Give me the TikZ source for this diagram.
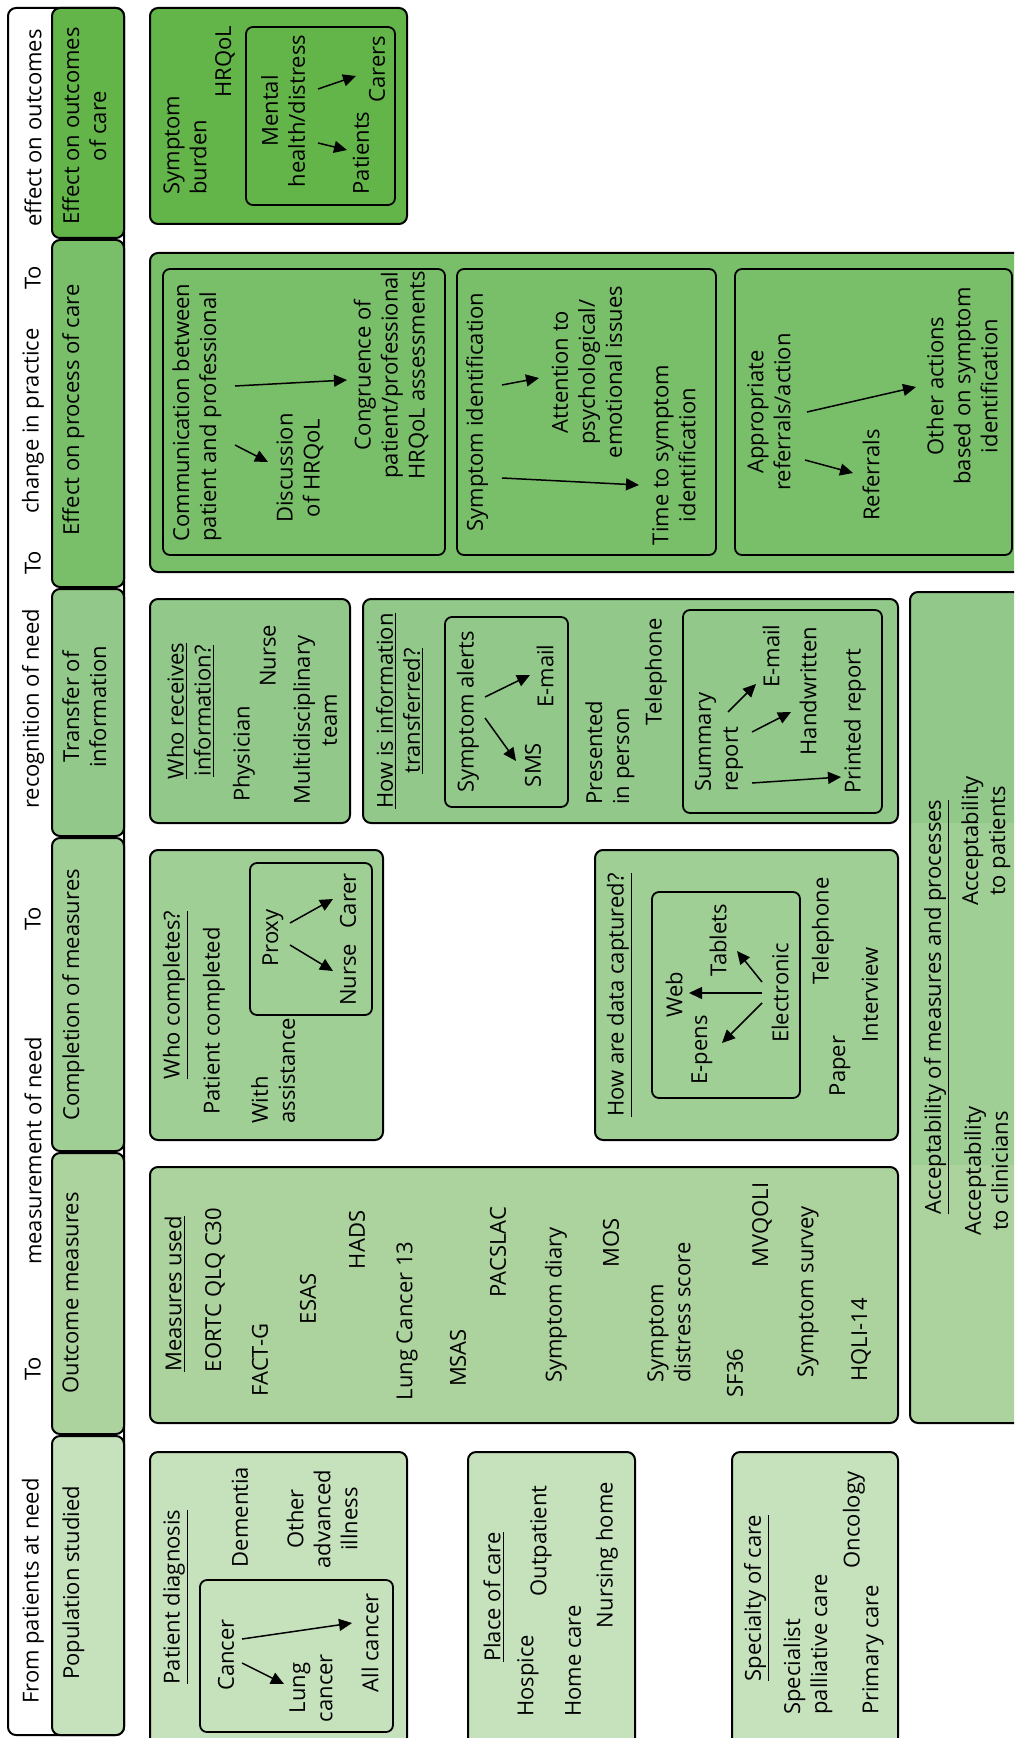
\documentclass[tikz,border=0pt]{standalone}
\usepackage{fontspec}
\setmainfont{Open Sans}
\usetikzlibrary{arrows.meta}
\definecolor{cOut}{RGB}{99,181,73}
\definecolor{cProc}{RGB}{121,191,106}
\definecolor{cTrans}{RGB}{146,201,138}
\definecolor{cComp}{RGB}{160,207,149}
\definecolor{cMeas}{RGB}{172,211,157}
\definecolor{cPop}{RGB}{198,226,189}
\newcommand\myfs{\fontsize{11}{13.5}\selectfont}
\newcommand\myarrow[3]{\coordinate (#1s) at (#2); \coordinate (#1e) at (#3); \draw[arr] (#1s) -- (#1e);}
\begin{document}
\begin{tikzpicture}[x=0.5pt,y=-0.5pt,
  box/.style={draw=black, line width=1pt, rounded corners=4pt},
  ibox/.style={draw=black, line width=0.9pt, rounded corners=3.5pt},
  arr/.style={-{Triangle[length=6.5pt,width=6pt]}, line width=0.75pt},
  t/.style={rotate=90, inner sep=0pt, align=center, font=\myfs},
  tl/.style={t, align=left, anchor=west},
  tab/.style={t, anchor=north}]
\useasboundingbox (0,0) rectangle (1014,1738);
\clip (0,0) rectangle (1014,1738);
% header strip
\draw[box, fill=white] (8,8) rectangle (124,1735);
\draw[box, fill=cOut]   (52,8)    rectangle (124,238);
\draw[box, fill=cProc]  (52,240)  rectangle (124,587);
\draw[box, fill=cTrans] (52,589)  rectangle (124,836);
\draw[box, fill=cComp]  (52,838)  rectangle (124,1151);
\draw[box, fill=cMeas]  (52,1153) rectangle (124,1434);
\draw[box, fill=cPop]   (52,1436) rectangle (124,1735);
\node[t] (h1) at (33,128) {effect on outcomes};
\node[t] (h2) at (33,278) {To};
\node[t] (h3) at (33,421) {change in practice};
\node[t] (h4) at (33,563) {To};
\node[t] (h5) at (33,709) {recognition of need};
\node[t] (h6) at (33,919) {To};
\node[t] (h7) at (33,1151) {measurement of need};
\node[t] (h8) at (33,1369) {To};
\node[t] (h9) at (33,1591) {From patients at need};
\node[tab] (tb1) at (62,126) {Effect on outcomes\\of care};
\node[tab] (tb2) at (62,410) {Effect on process of care};
\node[tab] (tb3) at (62,707) {Transfer of\\information};
\node[tab] (tb4) at (62,995) {Completion of measures};
\node[tab] (tb5) at (62,1293) {Outcome measures};
\node[tab] (tb6) at (62,1583) {Population studied};
% outcomes of care
\draw[box, fill=cOut] (150,8) rectangle (407,224);
\draw[ibox] (246,27) rectangle (395,205);
\node[tl] (sb) at (185,195) {Symptom\\burden};
\node[t] (hrq) at (225,62) {HRQoL};
\node[t] (mh) at (283,111) {Mental\\health/distress};
\node[t] (pat) at (361,153) {Patients};
\node[t] (car) at (377,69) {Carers};
\myarrow{o1}{318,89}{356,76}
\myarrow{o2}{318,143}{347,150}
% process of care
\draw[box, fill=cProc] (150,253) rectangle (1040,572);
\draw[ibox] (163,269) rectangle (445,555);
\draw[ibox] (457,269) rectangle (716,555);
\draw[ibox] (735,269) rectangle (1012,555);
\node[tl] (com) at (197,542) {Communication between\\patient and professional};
\node[t] (dis) at (300,468) {Discussion\\of HRQoL};
\node[t] (con) at (391,375) {Congruence of\\patient/professional\\HRQoL assessments};
\myarrow{p1}{235,386}{347,380}
\myarrow{p2}{235,445}{268,462}
\node[t] (sid) at (477,412) {Symptom identification};
\node[t] (att) at (587,372) {Attention to\\psychological/\\emotional issues};
\node[t] (tts) at (674,455) {Time to symptom\\identification};
\myarrow{p3}{502,385}{539,378}
\myarrow{p4}{502,478}{639,485}
\node[t] (app) at (769,412) {Appropriate\\referrals/action};
\node[t] (ref) at (871,475) {Referrals};
\node[t] (oth) at (962,386) {Other actions\\based on symptom\\identification};
\myarrow{p5}{807,412}{916,387}
\myarrow{p6}{805,460}{853,473}
% transfer of information
\draw[box, fill=cTrans] (150,599) rectangle (350,823);
\node[t] (wri) at (191,711) {\underline{Who receives}\\\underline{information?}};
\node[t] (phy) at (244,754) {Physician};
\node[t] (nur) at (268,656) {Nurse};
\node[t] (mdt) at (315,720) {Multidisciplinary\\team};
\draw[box, fill=cTrans] (363,599) rectangle (898,823);
\node[t] (hit) at (400,711) {\underline{How is information}\\\underline{transferred?}};
\draw[ibox] (445,617) rectangle (568,807);
\node[t] (sal) at (468,712) {Symptom alerts};
\node[t] (sms) at (533,765) {SMS};
\node[t] (em1) at (545,676) {E-mail};
\myarrow{t1}{485,697}{530,675}
\myarrow{t2}{485,718}{516,761}
\node[tl] (pip) at (610,805) {Presented\\in person};
\node[t] (tel1) at (656,672) {Telephone};
\draw[ibox] (683,610) rectangle (882,813);
\node[tl] (sum) at (719,792) {Summary\\report};
\node[t] (em2) at (771,656) {E-mail};
\node[t] (hw) at (808,691) {Handwritten};
\node[t] (pr) at (855,721) {Printed report};
\myarrow{t3}{728,712}{756,684}
\myarrow{t4}{752,732}{791,712}
\myarrow{t5}{752,783}{841,777}
% completion of measures
\draw[box, fill=cComp] (150,850) rectangle (383,1140);
\node[t] (wc) at (176,995) {\underline{Who completes?}};
\node[t] (pc) at (214,1021) {Patient completed};
\node[tl] (wa) at (273,1124) {With\\assistance};
\draw[ibox] (250,863) rectangle (372,1015);
\node[t] (prx) at (273,938) {Proxy};
\node[t] (nur2) at (348,975) {Nurse};
\node[t] (crr) at (348,901) {Carer};
\myarrow{c1}{290,923}{333,899}
\myarrow{c2}{290,945}{333,971}
\draw[box, fill=cComp] (595,850) rectangle (898,1140);
\node[t] (hdc) at (620,995) {\underline{How are data captured?}};
\draw[ibox] (652,892) rectangle (800,1098);
\node[t] (web) at (674,995) {Web};
\node[t] (tab) at (718,940) {Tablets};
\node[t] (epn) at (702,1050) {E-pens};
\node[t] (ele) at (780,993) {Electronic};
\myarrow{c3}{762,993}{689,993}
\myarrow{c4}{762,982}{737,951}
\myarrow{c5}{762,1003}{722,1043}
\node[t] (tel2) at (823,931) {Telephone};
\node[t] (pap) at (840,1066) {Paper};
\node[t] (int) at (870,995) {Interview};
% outcome measures
\draw[box, fill=cMeas] (150,1167) rectangle (898,1423);
\node[t] (mu) at (175,1294) {\underline{Measures used}};
\node[t] (m1) at (215,1290) {EORTC QLQ C30};
\node[t] (m2) at (260,1360) {FACT-G};
\node[t] (m3) at (308,1299) {ESAS};
\node[t] (m4) at (357,1240) {HADS};
\node[t] (m5) at (407,1321) {Lung Cancer 13};
\node[t] (m6) at (458,1358) {MSAS};
\node[t] (m7) at (498,1252) {PACSLAC};
\node[t] (m8) at (556,1305) {Symptom diary};
\node[t] (m9) at (611,1243) {MOS};
\node[tl] (m10) at (669,1383) {Symptom\\distress score};
\node[t] (m11) at (762,1225) {MVQOLI};
\node[t] (m12) at (735,1373) {SF36};
\node[t] (m13) at (808,1292) {Symptom survey};
\node[t] (m14) at (861,1340) {HQLI-14};
% acceptability
\begin{scope}
\clip[rounded corners=4pt] (910,592) rectangle (1040,1423);
\fill[cTrans] (900,580) rectangle (1040,823);
\fill[cComp] (900,823) rectangle (1040,1165);
\fill[cMeas] (900,1165) rectangle (1040,1430);
\end{scope}
\draw[box] (910,592) rectangle (1040,1423);
\node[t] (acc) at (937,1007) {\underline{Acceptability of measures and processes}};
\node[t] (acl) at (986,1171) {Acceptability\\to clinicians};
\node[t] (apt) at (986,841) {Acceptability\\to patients};
% population studied
\draw[box, fill=cPop] (150,1452) rectangle (407,1760);
\draw[ibox] (200,1580) rectangle (393,1732);
\node[t] (pd) at (176,1597) {\underline{Patient diagnosis}};
\node[t] (dem) at (240,1517) {Dementia};
\node[t] (oai) at (322,1519) {Other\\advanced\\illness};
\node[t] (can) at (226,1655) {Cancer};
\node[t] (lc) at (311,1688) {Lung\\cancer};
\node[t] (ac) at (370,1643) {All cancer};
\myarrow{d1}{242,1663}{284,1684}
\myarrow{d2}{242,1639}{352,1623}
\draw[box, fill=cPop] (468,1452) rectangle (635,1760);
\node[t] (poc) at (494,1597) {\underline{Place of care}};
\node[t] (hos) at (528,1676) {Hospice};
\node[t] (out) at (541,1541) {Outpatient};
\node[t] (hc) at (573,1661) {Home care};
\node[t] (nh) at (607,1555) {Nursing home};
\draw[box, fill=cPop] (732,1452) rectangle (898,1760);
\node[t] (soc) at (757,1598) {\underline{Specialty of care}};
\node[tl] (spc) at (808,1715) {Specialist\\palliative care};
\node[t] (onc) at (854,1520) {Oncology};
\node[t] (prc) at (873,1650) {Primary care};
\end{tikzpicture}
\end{document}
